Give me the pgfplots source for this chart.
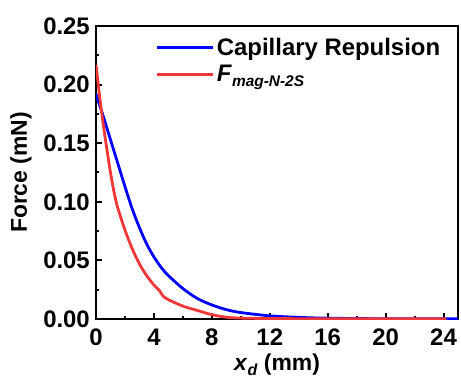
\documentclass[border=0pt]{standalone}
\usepackage{fontspec}
\setmainfont{Liberation Sans}
\usepackage{pgfplots}
\pgfplotsset{compat=1.18}
\definecolor{myblue}{RGB}{0,0,255}
\definecolor{myred}{RGB}{240,55,55}
\begin{document}
\begin{tikzpicture}
\path[use as bounding box] (-96bp,-59bp) rectangle (365bp,319bp);
\begin{axis}[
  at={(0,0)}, anchor=south west, scale only axis,
  width=362bp, height=293bp,
  xmin=0, xmax=25, ymin=0, ymax=0.25,
  axis line style={line width=2.5bp},
  xtick={0,4,8,12,16,20,24},
  ytick={0,0.05,0.10,0.15,0.20,0.25},
  minor x tick num=1, minor y tick num=1,
  tick align=inside, xtick pos=left, ytick pos=left,
  major tick length=6bp, minor tick length=3.5bp,
  every tick/.style={line width=2bp, black},
  /pgf/number format/assume math mode=true,
  ticklabel style={font=\fontsize{24}{28}\selectfont\bfseries},
  yticklabel style={/pgf/number format/.cd, fixed, fixed zerofill, precision=2, /tikz/.cd, inner sep=0pt, xshift=-6bp},
  xticklabel style={inner sep=0pt, yshift=-10bp},
  every axis y label/.style={at={(axis description cs:-0.207,0.5)}, anchor=center, rotate=90},
  every axis x label/.style={at={(axis description cs:0.5,-0.176)}, anchor=base},
  label style={font=\fontsize{23}{27}\selectfont\bfseries},
  xlabel={\textit{x}\raisebox{-4.5bp}{\fontsize{16}{18}\selectfont\textit{d}} (mm)},
  ylabel={Force (mN)},
  legend style={draw=none, fill=none, at={(axis description cs:0.165,0.965)}, anchor=north west,
    font=\fontsize{24}{28}\selectfont\bfseries, row sep=4bp, inner sep=0pt,
    nodes={inner sep=2bp}},
  legend cell align=left,
  legend image code/.code={\draw[#1, line width=3bp] (0bp,0bp) -- (56bp,0bp);},
]
\addplot[myblue, line width=2.8bp, smooth, tension=0.5] coordinates {
(0,0.192) (0.5,0.173) (1.0,0.153) (1.5,0.133) (2.0,0.113) (2.5,0.094) (3.0,0.078)
(3.5,0.064) (4.0,0.053) (4.5,0.044) (5.0,0.037) (6.0,0.026) (7.0,0.0175) (8.0,0.012)
(9.0,0.008) (10,0.0055) (12,0.0027) (14,0.0014) (16,0.0007) (20,0.0002) (25,0.0001)
};
\addlegendentry{Capillary Repulsion}
\addplot[myred, line width=2.8bp, smooth, tension=0.5] coordinates {
(0,0.217) (0.25,0.190) (0.5,0.166) (0.75,0.145) (1.0,0.125) (1.25,0.108) (1.5,0.095)
(2.0,0.076) (2.5,0.060) (3.0,0.047) (3.5,0.037) (4.0,0.029) (4.4,0.024) (4.6,0.020)
(5.0,0.0165) (6.0,0.011) (7.0,0.0073) (8.0,0.0037) (9.0,0.0015) (10,0.0008) (12,0.0004)
(16,0.0002) (20,0.0001) (24.2,0.0001)
};
\addlegendentry{\textit{F}\raisebox{-5bp}{\fontsize{15.5}{17}\selectfont\textit{mag-N-2S}}}
\end{axis}
\end{tikzpicture}
\end{document}
